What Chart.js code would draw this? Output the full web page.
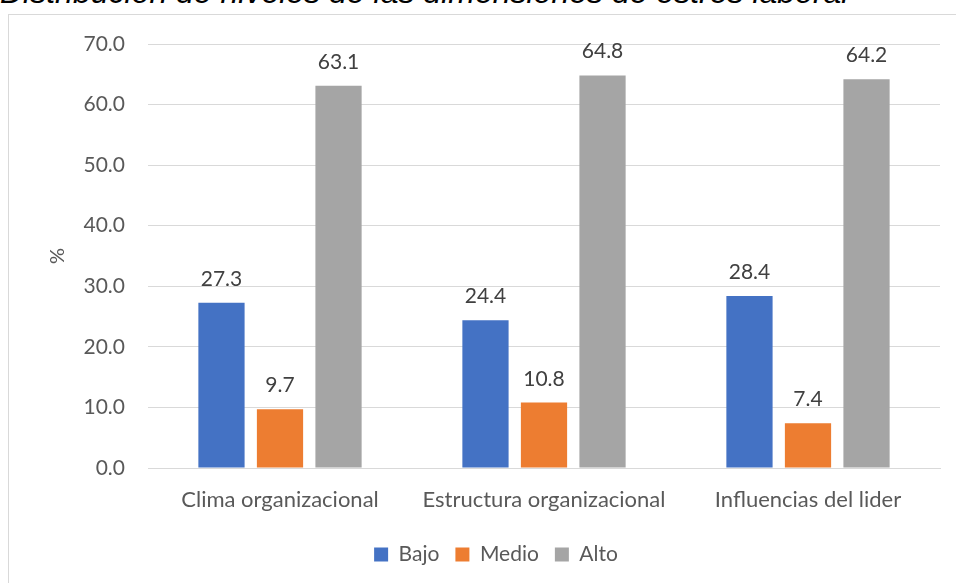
<!DOCTYPE html>
<html>
<head>
<meta charset="utf-8">
<script src="https://cdn.jsdelivr.net/npm/chart.js@4/dist/chart.umd.min.js"></script>
<style>
  html, body { margin: 0; padding: 0; background: #fff; overflow: hidden; }
  #wrap { position: relative; width: 956px; height: 583px; }
  #title {
    position: absolute; left: 0; top: -24px; white-space: nowrap;
    font-family: "Liberation Sans", Arial, sans-serif; font-style: italic;
    font-size: 32px; line-height: 32px; color: #000;
  }
  #frame {
    position: absolute; left: 8px; top: 14px; width: 960px; height: 580px;
    border: 1px solid #d9d9d9; box-sizing: border-box;
  }
  #chart { position: absolute; left: 0; top: 0; }
</style>
</head>
<body>
<div id="wrap">
  <div id="title">Distribución de niveles de las dimensiones de estrés laboral</div>
  <div id="frame"></div>
  <canvas id="chart" width="956" height="583"></canvas>
</div>
<script>
// Chart data
const categories = ['Clima organizacional', 'Estructura organizacional', 'Influencias del lider'];
const seriesNames = ['Bajo', 'Medio', 'Alto'];
const bajo = [27.3, 24.4, 28.4];
const medio = [9.7, 10.8, 7.4];
const alto = [63.1, 64.8, 64.2];
const colors = ['#4472C4', '#ED7D31', '#A5A5A5'];

const FONT = 'Lato, "Open Sans", sans-serif';

// Draw value labels above each bar
const valueLabels = {
    id: 'valueLabels',
    afterDatasetsDraw(chart) {
        const ctx = chart.ctx;
        ctx.save();
        ctx.font = '21px ' + FONT;
        ctx.fillStyle = '#404040';
        ctx.textAlign = 'center';
        ctx.textBaseline = 'alphabetic';
        chart.data.datasets.forEach(function(ds, i) {
            chart.getDatasetMeta(i).data.forEach(function(bar, j) {
                ctx.fillText(ds.data[j].toFixed(1), bar.x, bar.y - 17);
            });
        });
        ctx.restore();
    }
};

// Legend sits centred under the whole frame, a bit right of the plot centre
const legendShift = {
    id: 'legendShift',
    afterLayout(chart) {
        chart.legend.left += 26;
        chart.legend.right += 26;
    }
};

const ctx = document.getElementById('chart').getContext('2d');
const chart = new Chart(ctx, {
    type: 'bar',
    data: {
        labels: categories,
        datasets: [
            { label: seriesNames[0], data: bajo, backgroundColor: colors[0] },
            { label: seriesNames[1], data: medio, backgroundColor: colors[1] },
            { label: seriesNames[2], data: alto, backgroundColor: colors[2] }
        ]
    },
    options: {
        responsive: false,
        animation: false,
        categoryPercentage: 0.665,
        barPercentage: 0.79,
        layout: {
            padding: { top: 44, right: 16, bottom: 8, left: 0 }
        },
        plugins: {
            legend: {
                position: 'bottom',
                labels: {
                    font: { family: FONT, size: 21 },
                    color: '#595959',
                    boxWidth: 14,
                    boxHeight: 14,
                    padding: 16
                }
            },
            tooltip: { enabled: false }
        },
        scales: {
            x: {
                grid: { display: false },
                border: { color: '#d9d9d9', width: 1 },
                ticks: {
                    font: { family: FONT, size: 22 },
                    color: '#595959',
                    padding: 11,
                    maxRotation: 0
                },
                afterFit: function(s) { s.height = 60; }
            },
            y: {
                min: 0,
                max: 70,
                ticks: {
                    stepSize: 10,
                    font: { family: FONT, size: 21 },
                    color: '#595959',
                    padding: 23,
                    callback: function(v) { return v.toFixed(1); }
                },
                grid: { color: '#d9d9d9', drawTicks: false },
                border: { display: false },
                title: {
                    display: true,
                    text: '%',
                    font: { family: FONT, size: 20 },
                    color: '#595959',
                    padding: { top: 46, bottom: 0 }
                },
                afterFit: function(s) { s.width = 148; }
            }
        }
    },
    plugins: [valueLabels, legendShift]
});
</script>
</body>
</html>
